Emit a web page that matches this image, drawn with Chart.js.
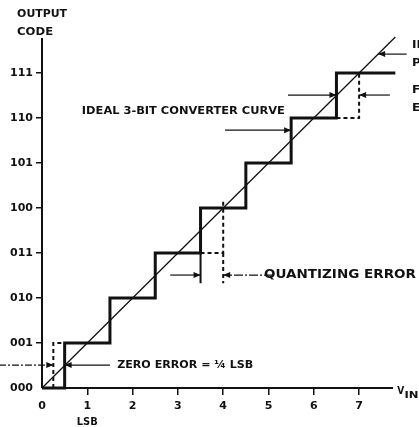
<!DOCTYPE html>
<html>
<head>
<meta charset="utf-8">
<script src="https://cdn.jsdelivr.net/npm/chart.js@4/dist/chart.umd.min.js"></script>
<style>
html,body{margin:0;padding:0;background:#fff;}
#wrap{width:419px;height:427px;}
</style>
</head>
<body>
<div id="wrap"><canvas id="c" width="419" height="427"></canvas></div>
<script>
// ---- data ----
const xTickValues = [0, 1, 2, 3, 4, 5, 6, 7];
const yTickValues = [0, 1, 2, 3, 4, 5, 6, 7];
const yTickLabels = ['000', '001', '010', '011', '100', '101', '110', '111'];

// ideal (infinite resolution) straight line
const idealX = [0, 7.8];
const idealY = [0, 7.8];

// ideal 3-bit converter staircase
const stairX = [0, 0.5, 0.5, 1.5, 1.5, 2.5, 2.5, 3.5, 3.5, 4.5, 4.5, 5.5, 5.5, 6.5, 6.5, 7.8];
const stairY = [0, 0, 1, 1, 2, 2, 3, 3, 4, 4, 5, 5, 6, 6, 7, 7];

// zero (offset) error dashed step
const zeroErrX = [0.25, 0.25, 0.5];
const zeroErrY = [0, 1, 1];

// quantizing error dashed step and extension lines
const quantDashX = [3.5, 4, 4];
const quantDashY = [3, 3, 4.15];
const quantDashExtX = [4, 4];
const quantDashExtY = [3, 2.33];
const quantSolidExtX = [3.5, 3.5];
const quantSolidExtY = [3, 2.33];

// full-scale error dashed step
const fullErrX = [6.5, 7, 7];
const fullErrY = [6, 6, 7.05];

// axes
const xAxisX = [0, 7.75];
const xAxisY = [0, 0];
const yAxisX = [0, 0];
const yAxisY = [0, 7.78];

// annotation arrows (from -> to, at height y)
const arrowFromX = [-0.95, 1.5, 2.83, 5.1, 4.04, 5.43, 7.68, 8.05];
const arrowToX   = [0.25, 0.5, 3.5, 4.0, 5.5, 6.5, 7.0, 7.42];
const arrowY     = [0.51, 0.51, 2.51, 2.51, 5.73, 6.51, 6.51, 7.42];
const arrowDash  = [[7, 2, 2, 2], [], [], [9, 2, 2, 2], [], [], [], []];

// ---- build datasets ----
function pts(xs, ys) { return xs.map((x, i) => ({ x: x, y: ys[i] })); }
const INK = '#111';
function lineDs(xs, ys, width, dash, extra) {
  return Object.assign({
    data: pts(xs, ys),
    showLine: true,
    borderColor: INK,
    backgroundColor: INK,
    borderWidth: width,
    borderDash: dash || [],
    pointRadius: 0,
    pointHoverRadius: 0,
    fill: false,
    tension: 0,
    clip: false,
    borderCapStyle: 'butt',
    borderJoinStyle: 'miter'
  }, extra || {});
}

const datasets = [
  lineDs(xAxisX, xAxisY, 2),
  lineDs(yAxisX, yAxisY, 2),
  lineDs(idealX, idealY, 1.3),
  lineDs(stairX, stairY, 3),
  lineDs(zeroErrX, zeroErrY, 2, [4, 3]),
  lineDs(quantDashX, quantDashY, 2, [4, 3]),
  lineDs(quantDashExtX, quantDashExtY, 2, [4, 3]),
  lineDs(quantSolidExtX, quantSolidExtY, 2),
  lineDs(fullErrX, fullErrY, 2, [4, 3])
];
arrowFromX.forEach((fx, i) => {
  datasets.push(lineDs([fx, arrowToX[i]], [arrowY[i], arrowY[i]], 1.2, arrowDash[i], { arrow: true }));
});

// ---- text annotations (anchored in data coordinates) ----
const F = 'bold 11px "DejaVu Sans", "Liberation Sans", sans-serif';
const F12 = 'bold 12px "DejaVu Sans", "Liberation Sans", sans-serif';
const notes = [
  { t: 'OUTPUT', x: -0.55, y: 8.31, w: 50 },
  { t: 'CODE', x: -0.55, y: 7.91, w: 36 },
  { t: 'IDEAL 3-BIT CONVERTER CURVE', x: 0.88, y: 6.16, w: 203 },
  { t: 'QUANTIZING ERROR', x: 4.9, y: 2.51, w: 152, font: F12 },
  { t: 'ZERO ERROR = \u00BC LSB', x: 1.66, y: 0.51, w: 136 },
  { t: 'LSB', x: 1.0, y: -0.76, w: 21, align: 'center' },
  { t: 'INFINITE', x: 8.17, y: 7.62 },
  { t: 'PRECISION', x: 8.17, y: 7.22 },
  { t: 'FULL SCALE', x: 8.17, y: 6.62 },
  { t: 'ERROR', x: 8.17, y: 6.22 },
  { t: 'V', x: 7.84, y: -0.06, w: 7 },
  { t: 'IN', x: 8.0, y: -0.16, w: 14, font: 'bold 9px "DejaVu Sans", sans-serif' }
];

const notesPlugin = {
  id: 'notes',
  afterDraw(chart) {
    const ctx = chart.ctx, xs = chart.scales.x, ys = chart.scales.y;
    ctx.save();
    ctx.fillStyle = INK;
    ctx.textBaseline = 'middle';
    notes.forEach(n => {
      ctx.font = n.font || F;
      const px = xs.getPixelForValue(n.x), py = ys.getPixelForValue(n.y);
      const mw = ctx.measureText(n.t).width;
      const sx = n.w ? n.w / mw : 1.1;
      ctx.save();
      ctx.translate(px, py);
      ctx.scale(sx, 1);
      ctx.textAlign = n.align || 'left';
      ctx.fillText(n.t, 0, 0);
      ctx.restore();
    });
    ctx.restore();
  }
};

const arrowPlugin = {
  id: 'arrowheads',
  afterDatasetsDraw(chart) {
    const ctx = chart.ctx;
    chart.data.datasets.forEach((ds, i) => {
      if (!ds.arrow) return;
      const el = chart.getDatasetMeta(i).data;
      const a = el[el.length - 2], b = el[el.length - 1];
      const ang = Math.atan2(b.y - a.y, b.x - a.x);
      const L = 7, W = 3;
      ctx.save();
      ctx.fillStyle = INK;
      ctx.translate(b.x, b.y);
      ctx.rotate(ang);
      ctx.beginPath();
      ctx.moveTo(0, 0);
      ctx.lineTo(-L, -W);
      ctx.lineTo(-L, W);
      ctx.closePath();
      ctx.fill();
      ctx.restore();
    });
  }
};

const tickFont = { family: '"DejaVu Sans", "Liberation Sans", sans-serif', weight: 'bold', size: 11 };

new Chart(document.getElementById('c'), {
  type: 'scatter',
  data: { datasets: datasets },
  options: {
    responsive: false,
    animation: false,
    devicePixelRatio: 1,
    layout: { padding: { left: 0, top: 28, right: 14.6, bottom: 0 } },
    plugins: { legend: { display: false }, tooltip: { enabled: false } },
    events: [],
    scales: {
      x: {
        type: 'linear', min: 0, max: 8,
        afterFit(s) { s.height = 39; },
        afterBuildTicks(s) { s.ticks = xTickValues.map(v => ({ value: v })); },
        border: { display: false },
        grid: {
          drawOnChartArea: false, drawTicks: true, tickLength: 7, lineWidth: 1.5,
          color: c => (c.tick && c.tick.value === 0) ? 'rgba(0,0,0,0)' : INK
        },
        ticks: { color: INK, font: tickFont, padding: 5, maxRotation: 0, autoSkip: false,
          callback: v => String(v) }
      },
      y: {
        type: 'linear', min: 0, max: 8,
        afterFit(s) { s.width = 42; },
        afterBuildTicks(s) { s.ticks = yTickValues.map(v => ({ value: v })); },
        border: { display: false },
        grid: {
          drawOnChartArea: false, drawTicks: true, tickLength: 6, lineWidth: 1.5,
          color: c => (c.tick && c.tick.value === 0) ? 'rgba(0,0,0,0)' : INK
        },
        ticks: { color: INK, font: tickFont, padding: 3, autoSkip: false,
          callback: v => yTickLabels[yTickValues.indexOf(v)] }
      }
    }
  },
  plugins: [arrowPlugin, notesPlugin]
});
</script>
</body>
</html>
